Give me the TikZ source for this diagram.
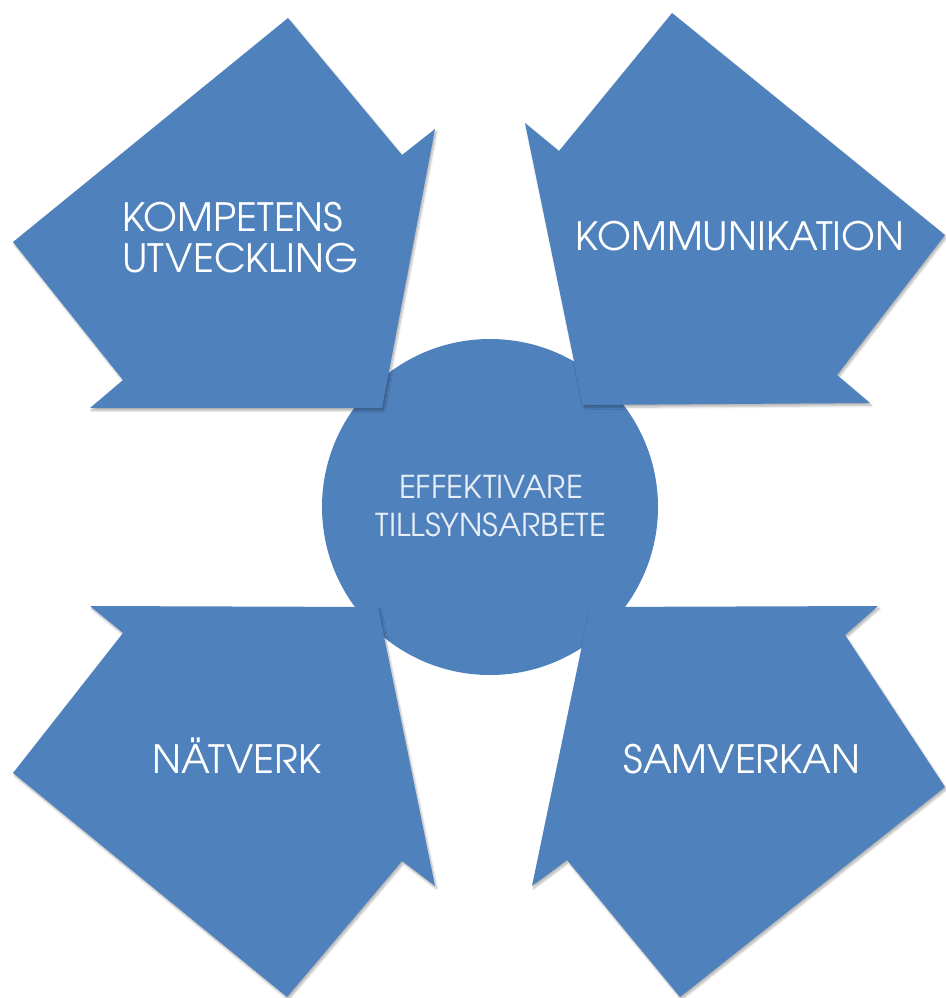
\documentclass[tikz,border=0pt]{standalone}
\usepackage{fontspec}
\setmainfont{texgyreadventor-regular.otf}
\usetikzlibrary{shadows.blur}
\definecolor{officeblue}{RGB}{79,129,189}
\definecolor{paletext}{RGB}{232,238,247}
\tikzset{
  blockarrow/.style={fill=officeblue, draw=none, blur shadow={shadow xshift=1.5pt, shadow yshift=-2.5pt, shadow blur steps=6, shadow opacity=30}},
  hub/.style={circle, fill=officeblue, draw=none, minimum size=336pt, inner sep=0pt},
  biglabel/.style={text=white, font=\fontsize{39}{41}\selectfont, inner sep=0pt, anchor=base},
  hublabel/.style={text=paletext, font=\fontsize{31.5}{38}\selectfont, inner sep=0pt, anchor=base}
}
\begin{document}
\begin{tikzpicture}[x=1pt, y=-1pt]
\useasboundingbox (0,0) rectangle (945,998);
% central circle
\node[hub] (hubc) at (490,507) {};
% four block arrows
\path[blockarrow] (288,18) -- (402,155) -- (435,129) -- (382,408) -- (90,408) -- (123,380) -- (13,242) -- cycle;
\path[blockarrow] (672,13) -- (945,235) -- (837,375) -- (870,403) -- (583,405) -- (525,123) -- (559,151) -- cycle;
\path[blockarrow] (378,607) -- (90,606) -- (123,633) -- (13,773) -- (287,997) -- (402,861) -- (435,886) -- cycle;
\path[blockarrow] (590,607) -- (878,606) -- (845,635) -- (945,787) -- (680,997) -- (567,860) -- (532,886) -- cycle;
% labels
\node[biglabel, anchor=base west, align=left] (komp) at (122,272) {KOMPETENS\\UTVECKLING};
\node[biglabel] (komm) at (740,250) {KOMMUNIKATION};
\node[biglabel] (natv) at (237,773) {NÄTVERK};
\node[biglabel] (samv) at (742,773) {SAMVERKAN};
\node[hublabel] (eff) at (491,498) {EFFEKTIVARE};
\node[hublabel] (till) at (491,536) {TILLSYNSARBETE};
\end{tikzpicture}
\end{document}
